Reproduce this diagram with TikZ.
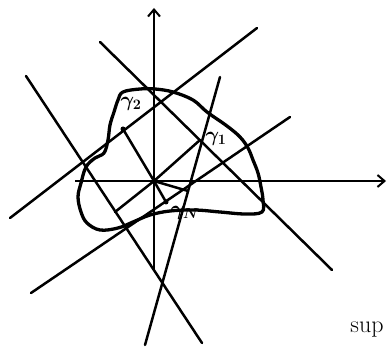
\documentclass[tikz,border=0pt]{standalone}
\usetikzlibrary{arrows.meta}
\begin{document}
\begin{tikzpicture}[x=1pt,y=-1pt,
  ln/.style={line width=2.5pt,line cap=round},
  ax/.style={line width=2.5pt,-{Straight Barb[length=7pt,width=12pt,line width=2pt]}},
  blob/.style={line width=3.3pt,line join=round},
  lab/.style={font=\fontsize{21}{22}\selectfont\boldmath,inner sep=0pt},
  dotm/.style={circle,fill,inner sep=0pt,minimum size=5pt}]
\useasboundingbox (0,0) rectangle (388,358);
\coordinate (O) at (154,181);
% axes
\draw[ax] (75,181) -- (386,181);
\draw[ax] (154,270) -- (154,8);
% blob
\draw[blob] plot[smooth cycle,tension=0.6] coordinates {
 (123,92) (140,89) (155,89) (173,92) (193,100) (207,112) (227,126) (240,137)
 (248,148) (253,160) (258,173) (261,187) (263,200) (262,212) (245,214)
 (220,212) (195,210) (170,211) (150,215) (133,222) (118,228) (100,230)
 (87,223) (81,212) (78,197) (81,183) (86,167) (95,158) (104,153) (108,140)
 (110,125) (114,112) (118,100)};
% supporting lines
\coordinate (a1) at (100,42);  \coordinate (b1) at (332,270);
\coordinate (a2) at (26,76);   \coordinate (b2) at (202,343);
\coordinate (a3) at (10,218);  \coordinate (b3) at (257,28);
\coordinate (a4) at (31,293);  \coordinate (b4) at (290,117);
\coordinate (a5) at (145,345); \coordinate (b5) at (220,77);
\draw[ln] (a1) -- (b1);
\draw[ln] (a2) -- (b2);
\draw[ln] (a3) -- (b3);
\draw[ln] (a4) -- (b4);
\draw[ln] (a5) -- (b5);
% normals
\coordinate (f1) at (200,140);
\coordinate (f2) at (115,212);
\coordinate (f3) at (123,129);
\coordinate (f4) at (166,202);
\coordinate (f5) at (188,191);
\draw[ln] (O) -- (f1);
\draw[ln] (O) -- (f2);
\draw[ln] (O) -- (f3);
\draw[ln] (O) -- (f4);
\draw[ln] (O) -- (f5);
\node[dotm] (d3) at (f3) {};
\node[dotm] (d4) at (f4) {};
% labels
\node[lab] (g2) at (131,104) {$\gamma_2$};
\node[lab] (g1) at (216,139) {$\gamma_1$};
\node[lab] (gN) at (185,213) {$\gamma_N$};
\node[font=\fontsize{24}{26}\selectfont,inner sep=0pt] (sup) at (367,330) {sup};
\end{tikzpicture}
\end{document}
